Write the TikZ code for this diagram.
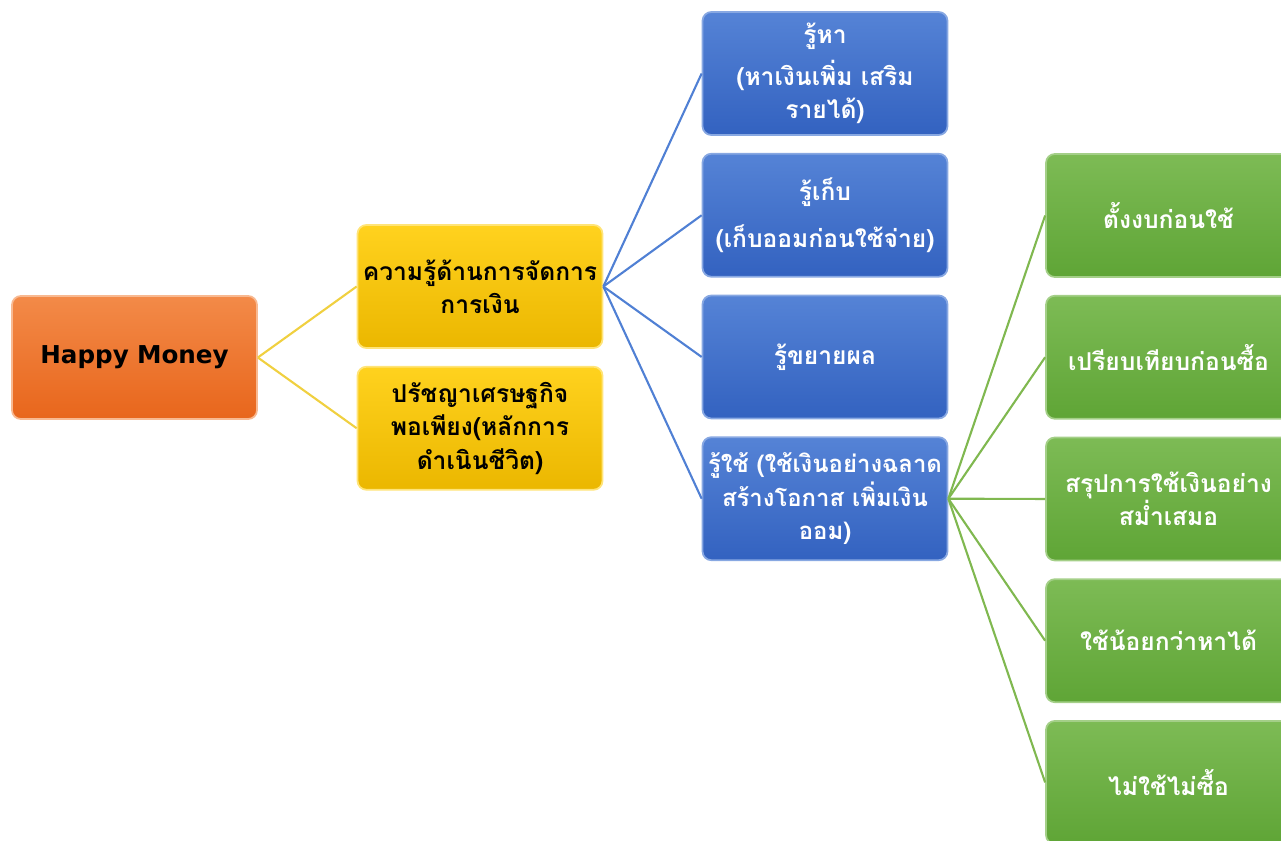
\documentclass[tikz,border=0pt]{standalone}
\usepackage{fontspec}
\newfontfamily\thaifont[Script=Thai]{Loma}
\newfontfamily\latinfont{DejaVu Sans}
\usetikzlibrary{positioning}
\definecolor{orangetop}{HTML}{F38A48}
\definecolor{orangebot}{HTML}{E8661C}
\definecolor{yellowtop}{HTML}{FFD21E}
\definecolor{yellowbot}{HTML}{EBB700}
\definecolor{bluetop}{HTML}{5583D6}
\definecolor{bluebot}{HTML}{3362C0}
\definecolor{greentop}{HTML}{7DBB55}
\definecolor{greenbot}{HTML}{5FA536}
\definecolor{yline}{HTML}{F0D040}
\definecolor{bline}{HTML}{5080D4}
\definecolor{gline}{HTML}{80B850}

\begin{document}
\begin{tikzpicture}[x=0.02cm,y=-0.02cm,
  box/.style={rounded corners=5pt, text width=4.7cm, minimum height=2.46cm,
    align=center, inner sep=0.1cm, line width=1pt,
    font=\thaifont\bfseries\fontsize{14}{19}\selectfont},
  rootbox/.style={box, top color=orangetop, bottom color=orangebot, draw=orangetop!60!white},
  ybox/.style={box, top color=yellowtop, bottom color=yellowbot, draw=yellowtop!60!white},
  bbox/.style={box, top color=bluetop, bottom color=bluebot, draw=bluetop!70!white, text=white},
  gbox/.style={box, top color=greentop, bottom color=greenbot, draw=greentop!70!white, text=white},
  link/.style={line width=1.2pt}
]
\useasboundingbox (0,0) rectangle (1281,840);
\clip (0,0) rectangle (1281,840);

% root
\node[rootbox, font=\latinfont\bfseries\fontsize{14}{17}\selectfont] (root) at (134.5,357.5) {Happy Money};

% second level
\node[ybox] (y1) at (480,286.5) {ความรู้ด้านการจัดการ\\การเงิน};
\node[ybox, below=0.34cm of y1] (y2) {ปรัชญาเศรษฐกิจ\\พอเพียง(หลักการ\\ดำเนินชีวิต)};

% third level
\node[bbox] (b1) at (825,73.5) {รู้หา\\[5pt](หาเงินเพิ่ม เสริม\\รายได้)};
\node[bbox, below=0.34cm of b1] (b2) {รู้เก็บ\\[8pt](เก็บออมก่อนใช้จ่าย)};
\node[bbox, below=0.34cm of b2] (b3) {รู้ขยายผล};
\node[bbox, below=0.34cm of b3, text width=4.88cm, inner xsep=0.01cm,
  font=\thaifont\bfseries\fontsize{13.6}{19}\selectfont] (b4) {รู้ใช้ (ใช้เงินอย่างฉลาด\\สร้างโอกาส เพิ่มเงิน\\ออม)};

% fourth level
\node[gbox] (g1) at (1168.5,215.5) {ตั้งงบก่อนใช้};
\node[gbox, below=0.34cm of g1] (g2) {เปรียบเทียบก่อนซื้อ};
\node[gbox, below=0.34cm of g2] (g3) {สรุปการใช้เงินอย่าง\\สม่ำเสมอ};
\node[gbox, below=0.34cm of g3] (g4) {ใช้น้อยกว่าหาได้};
\node[gbox, below=0.34cm of g4] (g5) {ไม่ใช้ไม่ซื้อ};

% connectors
\foreach \n in {y1,y2}{
  \draw[link, yline] (root.east) -- (\n.west);
}
\foreach \n in {b1,b2,b3,b4}{
  \draw[link, bline] (y1.east) -- (\n.west);
}
\foreach \n in {g1,g2,g3,g4,g5}{
  \draw[link, gline] (b4.east) -- (\n.west);
}
\end{tikzpicture}
\end{document}
